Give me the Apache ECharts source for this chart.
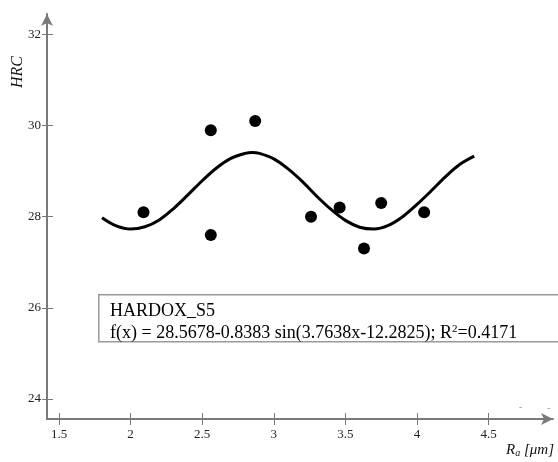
<!DOCTYPE html>
<html>
<head>
<meta charset="utf-8">
<script src="https://cdn.jsdelivr.net/npm/echarts@6/dist/echarts.min.js"></script>
<style>
  html, body { margin: 0; padding: 0; background: #fff; }
  #main { width: 558px; height: 462px; }
</style>
</head>
<body>
<div id="main"></div>
<script>
// 测量点 (Ra, HRC)
var pointRa  = [2.09, 2.56, 2.56, 2.87, 3.26, 3.46, 3.63, 3.75, 4.05];
var pointHRC = [28.1, 29.9, 27.6, 30.1, 28.0, 28.2, 27.3, 28.3, 28.1];

// 拟合曲线上读出的点
var curveRa  = [1.8, 1.9, 2.0, 2.1, 2.2, 2.3, 2.4, 2.5, 2.6, 2.7, 2.8, 2.85, 2.9, 3.0, 3.1,
                3.2, 3.3, 3.4, 3.5, 3.6, 3.7, 3.8, 3.9, 4.0, 4.1, 4.2, 4.3, 4.4];
var curveHRC = [27.98, 27.80, 27.73, 27.78, 27.93, 28.18, 28.48, 28.79, 29.07, 29.28,
                29.39, 29.41, 29.39, 29.27, 29.05, 28.77, 28.45, 28.16, 27.92, 27.77, 27.73,
                27.81, 28.00, 28.27, 28.57, 28.88, 29.15, 29.33];

// 刻度
var xTicks = [1.5, 2, 2.5, 3, 3.5, 4, 4.5];
var yTicks = [24, 26, 28, 30, 32];

var legendTitle = 'HARDOX_S5';
var legendFormula = 'f(x) = 28.5678-0.8383 sin(3.7638x-12.2825); R{sup|2}=0.4171';

var serif = '"Liberation Serif", "DejaVu Serif", serif';
var axisColor = '#7a7a7a';

var myChart = echarts.init(document.getElementById('main'));

function zip(a, b) {
    var d = [];
    for (var i = 0; i < a.length; i++) {
        d.push([a[i], b[i]]);
    }
    return d;
}

var option = {
    animation: false,
    backgroundColor: '#fff',
    grid: { left: 47, right: 5, top: 14, bottom: 43 },
    xAxis: [
        {
            type: 'value',
            min: 1.416,
            max: 4.95,
            axisLine: { show: true, symbol: ['none', 'arrow'], symbolSize: [9, 12],
                        lineStyle: { color: axisColor, width: 2 } },
            axisTick: { show: true, customValues: xTicks, length: 6,
                        lineStyle: { color: axisColor, width: 1 } },
            axisLabel: { customValues: xTicks, margin: 9, color: '#222',
                         fontFamily: serif, fontSize: 13 },
            splitLine: { show: false }
        },
        {
            type: 'value',
            position: 'bottom',
            min: 1.416,
            max: 4.95,
            axisLine: { show: false },
            axisTick: { show: true, inside: true, customValues: xTicks, length: 6,
                        lineStyle: { color: axisColor, width: 1 } },
            axisLabel: { show: false },
            splitLine: { show: false }
        }
    ],
    yAxis: [
        {
            type: 'value',
            min: 23.56,
            max: 32.45,
            axisLine: { show: true, symbol: ['none', 'arrow'], symbolSize: [9, 12],
                        lineStyle: { color: axisColor, width: 2 } },
            axisTick: { show: true, customValues: yTicks, length: 5,
                        lineStyle: { color: axisColor, width: 1 } },
            axisLabel: { customValues: yTicks, margin: 6, color: '#222',
                         fontFamily: serif, fontSize: 13 },
            splitLine: { show: false }
        },
        {
            type: 'value',
            position: 'left',
            min: 23.56,
            max: 32.45,
            axisLine: { show: false },
            axisTick: { show: true, inside: true, customValues: yTicks, length: 6,
                        lineStyle: { color: axisColor, width: 1 } },
            axisLabel: { show: false },
            splitLine: { show: false }
        }
    ],
    series: [
        {
            name: 'fit',
            type: 'line',
            smooth: 0.35,
            symbol: 'none',
            lineStyle: { color: '#000', width: 3 },
            data: zip(curveRa, curveHRC),
            z: 2
        },
        {
            name: 'HARDOX_S5',
            type: 'scatter',
            symbolSize: 12,
            itemStyle: { color: '#000', opacity: 1 },
            data: zip(pointRa, pointHRC),
            z: 3
        }
    ],
    graphic: [
        {
            type: 'rect',
            left: 98, top: 294,
            shape: { width: 470, height: 47 },
            style: { fill: '#fff', stroke: '#9a9a9a', lineWidth: 1.5 },
            z: 10
        },
        {
            type: 'text',
            left: 110, top: 302,
            style: { text: legendTitle, font: '18px ' + serif, fill: '#000' },
            z: 11
        },
        {
            type: 'text',
            left: 110, top: 324,
            style: {
                text: legendFormula,
                font: '18px ' + serif, fill: '#000',
                rich: { sup: { fontSize: 11, fontFamily: serif, verticalAlign: 'top', padding: [0, 0, 6, 0] } }
            },
            z: 11
        },
        {
            type: 'text',
            left: 10, top: 56,
            rotation: Math.PI / 2,
            style: { text: 'HRC', font: 'italic 16px ' + serif, fill: '#111' },
            z: 11
        },
        {
            type: 'text',
            right: 4, top: 443,
            style: {
                text: '{r|R}{s|a} [μm]',
                font: 'italic 15px ' + serif, fill: '#111',
                rich: { r: { fontSize: 15, fontStyle: 'italic', fontFamily: serif },
                        s: { fontSize: 10, fontStyle: 'italic', fontFamily: serif, verticalAlign: 'bottom', padding: [5, 0, 0, 0] } }
            },
            z: 11
        },
        {
            type: 'text',
            left: 519, top: 402,
            style: { text: '-', font: '10px ' + serif, fill: '#999' }
        },
        {
            type: 'text',
            left: 547, top: 403,
            style: { text: '-', font: '10px ' + serif, fill: '#999' }
        }
    ]
};

myChart.setOption(option);
</script>
</body>
</html>
